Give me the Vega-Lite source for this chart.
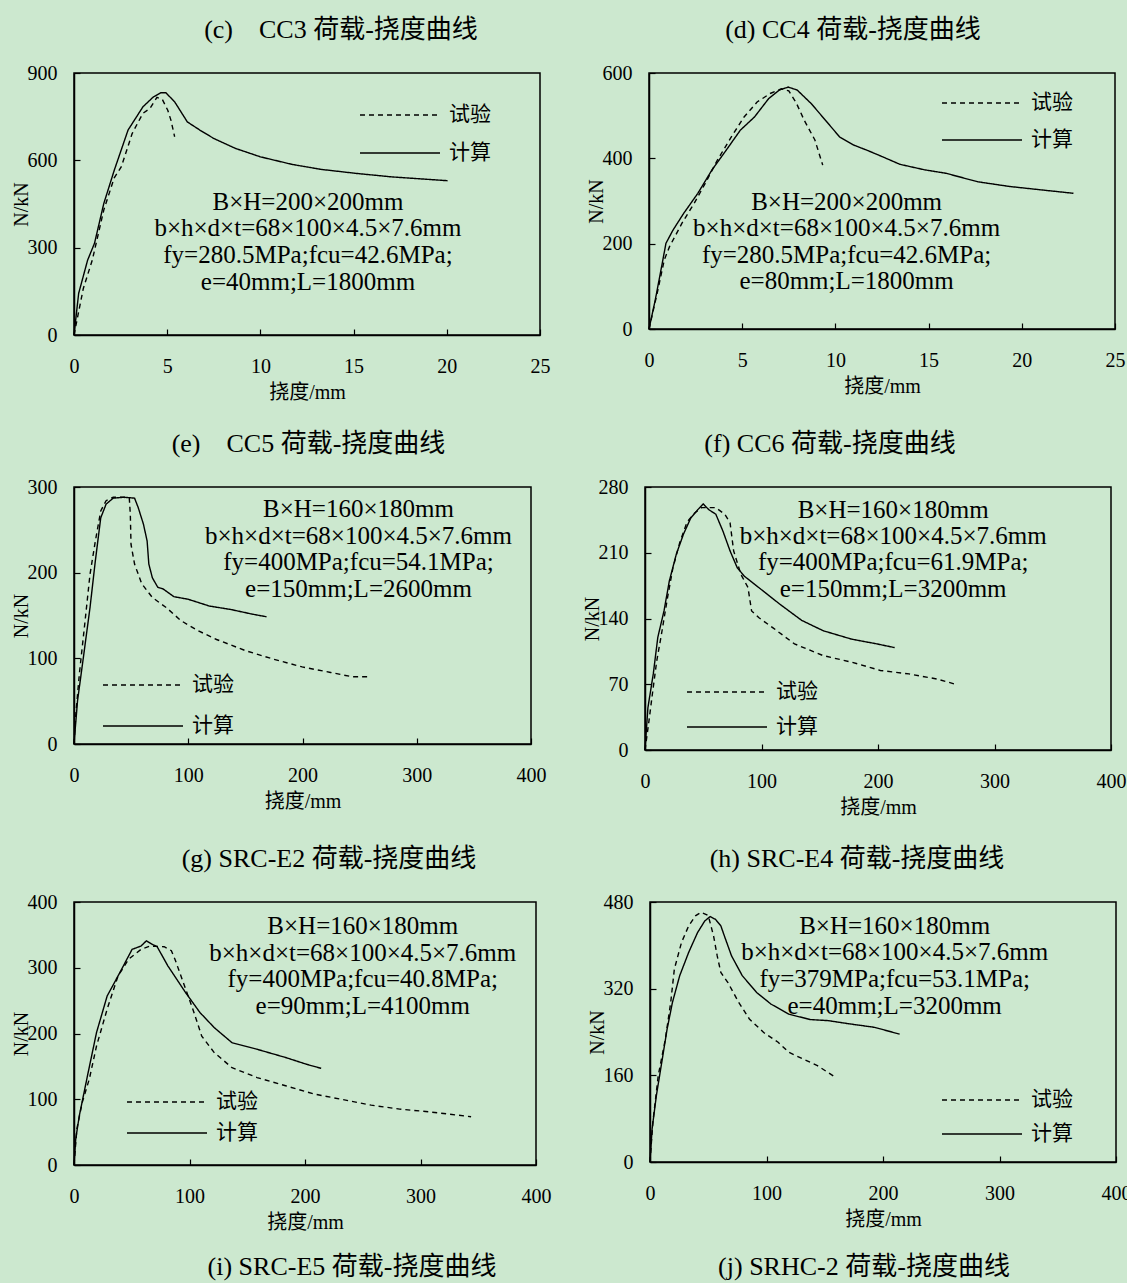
{
  "$schema": "https://vega.github.io/schema/vega-lite/v6.json",
  "background": "#cce8cf",
  "padding": {"left": 10, "top": 16, "right": 0, "bottom": 0},
  "spacing": 27,
  "resolve": {"scale": {"strokeDash": "independent"}, "legend": {"strokeDash": "independent"}},
  "datasets": {
    "c": [
      {"type": "试验", "x": 0, "y": 0}, {"type": "试验", "x": 0.5, "y": 160}, {"type": "试验", "x": 0.98, "y": 257}, {"type": "试验", "x": 1.6, "y": 430}, {"type": "试验", "x": 2.16, "y": 540}, {"type": "试验", "x": 2.54, "y": 578}, {"type": "试验", "x": 3.12, "y": 692}, {"type": "试验", "x": 3.69, "y": 761}, {"type": "试验", "x": 4.07, "y": 778}, {"type": "试验", "x": 4.45, "y": 816}, {"type": "试验", "x": 4.74, "y": 809}, {"type": "试验", "x": 5.03, "y": 772}, {"type": "试验", "x": 5.2, "y": 738}, {"type": "试验", "x": 5.4, "y": 681},
      {"type": "计算", "x": 0, "y": 0}, {"type": "计算", "x": 0.25, "y": 143}, {"type": "计算", "x": 0.73, "y": 257}, {"type": "计算", "x": 1.1, "y": 315}, {"type": "计算", "x": 1.6, "y": 452}, {"type": "计算", "x": 2.16, "y": 566}, {"type": "计算", "x": 2.9, "y": 704}, {"type": "计算", "x": 3.7, "y": 784}, {"type": "计算", "x": 4.26, "y": 818}, {"type": "计算", "x": 4.65, "y": 832}, {"type": "计算", "x": 4.93, "y": 832}, {"type": "计算", "x": 5.4, "y": 801}, {"type": "计算", "x": 6.08, "y": 732}, {"type": "计算", "x": 6.75, "y": 704}, {"type": "计算", "x": 7.5, "y": 675}, {"type": "计算", "x": 8.66, "y": 641}, {"type": "计算", "x": 10.0, "y": 612}, {"type": "计算", "x": 11.7, "y": 586}, {"type": "计算", "x": 13.25, "y": 569}, {"type": "计算", "x": 15.16, "y": 555}, {"type": "计算", "x": 17.07, "y": 543}, {"type": "计算", "x": 20.04, "y": 530}
    ],
    "d": [
      {"type": "试验", "x": 0, "y": 0}, {"type": "试验", "x": 0.44, "y": 84}, {"type": "试验", "x": 0.82, "y": 162}, {"type": "试验", "x": 1.1, "y": 193}, {"type": "试验", "x": 1.77, "y": 248}, {"type": "试验", "x": 2.43, "y": 295}, {"type": "试验", "x": 3.0, "y": 340}, {"type": "试验", "x": 3.67, "y": 396}, {"type": "试验", "x": 4.4, "y": 449}, {"type": "试验", "x": 5.1, "y": 497}, {"type": "试验", "x": 5.8, "y": 532}, {"type": "试验", "x": 6.5, "y": 552}, {"type": "试验", "x": 7.1, "y": 563}, {"type": "试验", "x": 7.5, "y": 558}, {"type": "试验", "x": 7.9, "y": 530}, {"type": "试验", "x": 8.33, "y": 489}, {"type": "试验", "x": 8.9, "y": 443}, {"type": "试验", "x": 9.32, "y": 384},
      {"type": "计算", "x": 0, "y": 0}, {"type": "计算", "x": 0.34, "y": 69}, {"type": "计算", "x": 0.68, "y": 147}, {"type": "计算", "x": 0.91, "y": 201}, {"type": "计算", "x": 1.29, "y": 232}, {"type": "计算", "x": 1.86, "y": 271}, {"type": "计算", "x": 2.62, "y": 318}, {"type": "计算", "x": 3.38, "y": 373}, {"type": "计算", "x": 4.14, "y": 419}, {"type": "计算", "x": 4.9, "y": 466}, {"type": "计算", "x": 5.66, "y": 497}, {"type": "计算", "x": 6.42, "y": 540}, {"type": "计算", "x": 6.99, "y": 560}, {"type": "计算", "x": 7.47, "y": 567}, {"type": "计算", "x": 7.95, "y": 560}, {"type": "计算", "x": 8.71, "y": 528}, {"type": "计算", "x": 9.47, "y": 489}, {"type": "计算", "x": 10.23, "y": 450}, {"type": "计算", "x": 10.99, "y": 431}, {"type": "计算", "x": 11.75, "y": 418}, {"type": "计算", "x": 12.51, "y": 404}, {"type": "计算", "x": 13.46, "y": 386}, {"type": "计算", "x": 14.79, "y": 373}, {"type": "计算", "x": 15.93, "y": 365}, {"type": "计算", "x": 17.64, "y": 345}, {"type": "计算", "x": 19.35, "y": 334}, {"type": "计算", "x": 21.06, "y": 326}, {"type": "计算", "x": 22.77, "y": 318}
    ],
    "e": [
      {"type": "试验", "x": 0, "y": 0}, {"type": "试验", "x": 1.6, "y": 35}, {"type": "试验", "x": 4.7, "y": 82}, {"type": "试验", "x": 9.4, "y": 140}, {"type": "试验", "x": 14, "y": 198}, {"type": "试验", "x": 18.7, "y": 237}, {"type": "试验", "x": 23.4, "y": 272}, {"type": "试验", "x": 28.1, "y": 284}, {"type": "试验", "x": 34.3, "y": 288}, {"type": "试验", "x": 43.7, "y": 288}, {"type": "试验", "x": 48.4, "y": 287}, {"type": "试验", "x": 49.3, "y": 268}, {"type": "试验", "x": 49.9, "y": 233}, {"type": "试验", "x": 53, "y": 210}, {"type": "试验", "x": 59.3, "y": 187}, {"type": "试验", "x": 68.6, "y": 171}, {"type": "试验", "x": 81, "y": 159}, {"type": "试验", "x": 93.6, "y": 144}, {"type": "试验", "x": 109, "y": 132}, {"type": "试验", "x": 124.8, "y": 122}, {"type": "试验", "x": 150, "y": 109}, {"type": "试验", "x": 174.7, "y": 99}, {"type": "试验", "x": 199.7, "y": 90}, {"type": "试验", "x": 224.6, "y": 83.5}, {"type": "试验", "x": 243.4, "y": 78.5}, {"type": "试验", "x": 257.4, "y": 78.5},
      {"type": "计算", "x": 0, "y": 0}, {"type": "计算", "x": 3.1, "y": 50.5}, {"type": "计算", "x": 7.8, "y": 97}, {"type": "计算", "x": 14, "y": 159}, {"type": "计算", "x": 18.7, "y": 214}, {"type": "计算", "x": 23.4, "y": 264}, {"type": "计算", "x": 28.1, "y": 280}, {"type": "计算", "x": 34.3, "y": 287}, {"type": "计算", "x": 43.7, "y": 288}, {"type": "计算", "x": 53, "y": 287}, {"type": "计算", "x": 56.2, "y": 276}, {"type": "计算", "x": 60.8, "y": 256.5}, {"type": "计算", "x": 64, "y": 237}, {"type": "计算", "x": 65.5, "y": 210}, {"type": "计算", "x": 68.6, "y": 194}, {"type": "计算", "x": 73.3, "y": 183}, {"type": "计算", "x": 78, "y": 181}, {"type": "计算", "x": 87.4, "y": 172}, {"type": "计算", "x": 99.8, "y": 169}, {"type": "计算", "x": 118.6, "y": 161}, {"type": "计算", "x": 137.3, "y": 157}, {"type": "计算", "x": 156, "y": 151.6}, {"type": "计算", "x": 168.5, "y": 148.5}
    ],
    "f": [
      {"type": "试验", "x": 0, "y": 0}, {"type": "试验", "x": 3.1, "y": 28}, {"type": "试验", "x": 7.1, "y": 67}, {"type": "试验", "x": 10.1, "y": 95}, {"type": "试验", "x": 14.1, "y": 123}, {"type": "试验", "x": 19.3, "y": 162}, {"type": "试验", "x": 23.9, "y": 193.5}, {"type": "试验", "x": 30, "y": 221.6}, {"type": "试验", "x": 36.2, "y": 243}, {"type": "试验", "x": 42.4, "y": 252}, {"type": "试验", "x": 48.5, "y": 258}, {"type": "试验", "x": 60.8, "y": 258}, {"type": "试验", "x": 68.5, "y": 251}, {"type": "试验", "x": 73, "y": 242}, {"type": "试验", "x": 76.1, "y": 212}, {"type": "试验", "x": 82.3, "y": 187}, {"type": "试验", "x": 88.4, "y": 173}, {"type": "试验", "x": 91.5, "y": 148}, {"type": "试验", "x": 97.6, "y": 141}, {"type": "试验", "x": 109.9, "y": 130}, {"type": "试验", "x": 128.3, "y": 113}, {"type": "试验", "x": 152.9, "y": 100.5}, {"type": "试验", "x": 177.4, "y": 93.5}, {"type": "试验", "x": 202, "y": 84.7}, {"type": "试验", "x": 226.6, "y": 81}, {"type": "试验", "x": 251, "y": 75.5}, {"type": "试验", "x": 266.5, "y": 70},
      {"type": "计算", "x": 0, "y": 0}, {"type": "计算", "x": 2.5, "y": 45}, {"type": "计算", "x": 7.1, "y": 81}, {"type": "计算", "x": 11, "y": 120}, {"type": "计算", "x": 16.3, "y": 148}, {"type": "计算", "x": 20.9, "y": 180}, {"type": "计算", "x": 27, "y": 209}, {"type": "计算", "x": 33.1, "y": 230}, {"type": "计算", "x": 39.3, "y": 247}, {"type": "计算", "x": 45.4, "y": 256}, {"type": "计算", "x": 50, "y": 262}, {"type": "计算", "x": 54.6, "y": 256}, {"type": "计算", "x": 60.8, "y": 251}, {"type": "计算", "x": 66.9, "y": 233}, {"type": "计算", "x": 73, "y": 212}, {"type": "计算", "x": 79.2, "y": 194}, {"type": "计算", "x": 85.3, "y": 185}, {"type": "计算", "x": 97.6, "y": 173}, {"type": "计算", "x": 116, "y": 155}, {"type": "计算", "x": 134.5, "y": 138}, {"type": "计算", "x": 152.9, "y": 127}, {"type": "计算", "x": 177.4, "y": 118}, {"type": "计算", "x": 198.9, "y": 113}, {"type": "计算", "x": 214.3, "y": 109}
    ],
    "g": [
      {"type": "试验", "x": 0, "y": 0}, {"type": "试验", "x": 2.5, "y": 55}, {"type": "试验", "x": 7.1, "y": 95}, {"type": "试验", "x": 13.3, "y": 131}, {"type": "试验", "x": 19.5, "y": 181}, {"type": "试验", "x": 28.7, "y": 237}, {"type": "试验", "x": 38, "y": 287}, {"type": "试验", "x": 47.3, "y": 313}, {"type": "试验", "x": 58, "y": 328}, {"type": "试验", "x": 65.8, "y": 333}, {"type": "试验", "x": 78.1, "y": 332}, {"type": "试验", "x": 84.3, "y": 326}, {"type": "试验", "x": 87.4, "y": 313}, {"type": "试验", "x": 93.6, "y": 282.5}, {"type": "试验", "x": 102.9, "y": 237}, {"type": "试验", "x": 110.6, "y": 196}, {"type": "试验", "x": 121.4, "y": 171}, {"type": "试验", "x": 136.8, "y": 148}, {"type": "试验", "x": 158.5, "y": 133}, {"type": "试验", "x": 183.2, "y": 120.5}, {"type": "试验", "x": 207.9, "y": 108}, {"type": "试验", "x": 231.2, "y": 100}, {"type": "试验", "x": 257.3, "y": 91}, {"type": "试验", "x": 282, "y": 85}, {"type": "试验", "x": 306.7, "y": 81}, {"type": "试验", "x": 331.4, "y": 76}, {"type": "试验", "x": 343.8, "y": 73.4},
      {"type": "计算", "x": 0, "y": 0}, {"type": "计算", "x": 1.5, "y": 39.5}, {"type": "计算", "x": 4.6, "y": 75}, {"type": "计算", "x": 11.7, "y": 136}, {"type": "计算", "x": 19.5, "y": 201.5}, {"type": "计算", "x": 28.7, "y": 257}, {"type": "计算", "x": 39.5, "y": 292}, {"type": "计算", "x": 50.3, "y": 328}, {"type": "计算", "x": 58, "y": 333}, {"type": "计算", "x": 62.7, "y": 341}, {"type": "计算", "x": 67.3, "y": 336}, {"type": "计算", "x": 72, "y": 332}, {"type": "计算", "x": 81.2, "y": 303}, {"type": "计算", "x": 96.7, "y": 262}, {"type": "计算", "x": 109, "y": 232}, {"type": "计算", "x": 121.4, "y": 209}, {"type": "计算", "x": 136.8, "y": 186}, {"type": "计算", "x": 158.5, "y": 176}, {"type": "计算", "x": 183.2, "y": 163.5}, {"type": "计算", "x": 201.7, "y": 153}, {"type": "计算", "x": 214, "y": 147}
    ],
    "h": [
      {"type": "试验", "x": 0, "y": 0}, {"type": "试验", "x": 2.5, "y": 74}, {"type": "试验", "x": 7.1, "y": 160}, {"type": "试验", "x": 13.2, "y": 227}, {"type": "试验", "x": 17.8, "y": 295}, {"type": "试验", "x": 20.9, "y": 356}, {"type": "试验", "x": 27, "y": 405}, {"type": "试验", "x": 33.2, "y": 436}, {"type": "试验", "x": 39.3, "y": 455}, {"type": "试验", "x": 43.9, "y": 461}, {"type": "试验", "x": 50, "y": 455}, {"type": "试验", "x": 54.6, "y": 417}, {"type": "试验", "x": 57.7, "y": 380.5}, {"type": "试验", "x": 60.8, "y": 350}, {"type": "试验", "x": 66.9, "y": 331}, {"type": "试验", "x": 76.1, "y": 295}, {"type": "试验", "x": 85.3, "y": 264}, {"type": "试验", "x": 97.6, "y": 239}, {"type": "试验", "x": 110, "y": 221}, {"type": "试验", "x": 119.1, "y": 202.6}, {"type": "试验", "x": 131.4, "y": 190}, {"type": "试验", "x": 143.7, "y": 178}, {"type": "试验", "x": 159, "y": 156.6},
      {"type": "计算", "x": 0, "y": 0}, {"type": "计算", "x": 1.8, "y": 61}, {"type": "计算", "x": 5.5, "y": 123}, {"type": "计算", "x": 10.1, "y": 184}, {"type": "计算", "x": 14.7, "y": 245.5}, {"type": "计算", "x": 19.3, "y": 295}, {"type": "计算", "x": 25.5, "y": 344}, {"type": "计算", "x": 33.2, "y": 387}, {"type": "计算", "x": 40.8, "y": 423.5}, {"type": "计算", "x": 47, "y": 445}, {"type": "计算", "x": 51.6, "y": 453}, {"type": "计算", "x": 56.2, "y": 448}, {"type": "计算", "x": 60.8, "y": 436}, {"type": "计算", "x": 63.9, "y": 417}, {"type": "计算", "x": 70, "y": 380.5}, {"type": "计算", "x": 79.2, "y": 344}, {"type": "计算", "x": 91.5, "y": 313}, {"type": "计算", "x": 103.8, "y": 291.6}, {"type": "计算", "x": 119.1, "y": 273}, {"type": "计算", "x": 137.5, "y": 263}, {"type": "计算", "x": 152.9, "y": 261}, {"type": "计算", "x": 171.3, "y": 255}, {"type": "计算", "x": 192.8, "y": 248.6}, {"type": "计算", "x": 214.3, "y": 236}
    ],
    "c_note": [
      {"t": "B×H=200×200mm", "x": 12.55, "y": 458}, {"t": "b×h×d×t=68×100×4.5×7.6mm", "x": 12.55, "y": 366}, {"t": "fy=280.5MPa;fcu=42.6MPa;", "x": 12.55, "y": 275}, {"t": "e=40mm;L=1800mm", "x": 12.55, "y": 183}
    ],
    "d_note": [
      {"t": "B×H=200×200mm", "x": 10.6, "y": 298}, {"t": "b×h×d×t=68×100×4.5×7.6mm", "x": 10.6, "y": 236}, {"t": "fy=280.5MPa;fcu=42.6MPa;", "x": 10.6, "y": 173}, {"t": "e=80mm;L=1800mm", "x": 10.6, "y": 113}
    ],
    "e_note": [
      {"t": "B×H=160×180mm", "x": 249, "y": 274}, {"t": "b×h×d×t=68×100×4.5×7.6mm", "x": 249, "y": 243}, {"t": "fy=400MPa;fcu=54.1MPa;", "x": 249, "y": 212}, {"t": "e=150mm;L=2600mm", "x": 249, "y": 181}
    ],
    "f_note": [
      {"t": "B×H=160×180mm", "x": 213, "y": 256}, {"t": "b×h×d×t=68×100×4.5×7.6mm", "x": 213, "y": 228}, {"t": "fy=400MPa;fcu=61.9MPa;", "x": 213, "y": 200}, {"t": "e=150mm;L=3200mm", "x": 213, "y": 171}
    ],
    "g_note": [
      {"t": "B×H=160×180mm", "x": 250, "y": 363}, {"t": "b×h×d×t=68×100×4.5×7.6mm", "x": 250, "y": 323}, {"t": "fy=400MPa;fcu=40.8MPa;", "x": 250, "y": 283}, {"t": "e=90mm;L=4100mm", "x": 250, "y": 242}
    ],
    "h_note": [
      {"t": "B×H=160×180mm", "x": 210, "y": 436}, {"t": "b×h×d×t=68×100×4.5×7.6mm", "x": 210, "y": 387}, {"t": "fy=379MPa;fcu=53.1MPa;", "x": 210, "y": 338}, {"t": "e=40mm;L=3200mm", "x": 210, "y": 288}
    ]
  },
  "vconcat": [
    {
      "hconcat": [
        {
          "width": 466, "height": 262,
          "title": {"text": "(c)\u00a0\u00a0\u00a0\u00a0CC3 荷载-挠度曲线", "dx": 34},
          "layer": [
            {"data": {"name": "c"}, "mark": {"type": "line", "color": "black", "strokeWidth": 1.4},
             "encoding": {
               "x": {"field": "x", "type": "quantitative", "scale": {"domain": [0, 25], "nice": false}, "axis": {"values": [0, 5, 10, 15, 20, 25], "title": "挠度/mm"}},
               "y": {"field": "y", "type": "quantitative", "scale": {"domain": [0, 900], "nice": false}, "axis": {"values": [0, 300, 600, 900], "title": "N/kN"}},
               "strokeDash": {"field": "type", "type": "nominal", "scale": {"domain": ["试验", "计算"], "range": [[5, 4], [1, 0]]}, "legend": {"title": null, "legendX": 285, "legendY": 34, "rowPadding": 17}}
             }},
            {"data": {"name": "c_note"}, "mark": {"type": "text", "fontSize": 25, "align": "center", "baseline": "middle", "color": "black"},
             "encoding": {"x": {"field": "x", "type": "quantitative"}, "y": {"field": "y", "type": "quantitative"}, "text": {"field": "t"}}}
          ]
        },
        {
          "width": 466, "height": 256,
          "title": {"text": "(d) CC4 荷载-挠度曲线", "dx": -29},
          "layer": [
            {"data": {"name": "d"}, "mark": {"type": "line", "color": "black", "strokeWidth": 1.4},
             "encoding": {
               "x": {"field": "x", "type": "quantitative", "scale": {"domain": [0, 25], "nice": false}, "axis": {"values": [0, 5, 10, 15, 20, 25], "title": "挠度/mm"}},
               "y": {"field": "y", "type": "quantitative", "scale": {"domain": [0, 600], "nice": false}, "axis": {"values": [0, 200, 400, 600], "title": "N/kN"}},
               "strokeDash": {"field": "type", "type": "nominal", "scale": {"domain": ["试验", "计算"], "range": [[5, 4], [1, 0]]}, "legend": {"title": null, "legendX": 292, "legendY": 22, "rowPadding": 16}}
             }},
            {"data": {"name": "d_note"}, "mark": {"type": "text", "fontSize": 25, "align": "center", "baseline": "middle", "color": "black"},
             "encoding": {"x": {"field": "x", "type": "quantitative"}, "y": {"field": "y", "type": "quantitative"}, "text": {"field": "t"}}}
          ]
        }
      ],
      "spacing": 34,
      "resolve": {"scale": {"strokeDash": "independent"}, "legend": {"strokeDash": "independent"}}
    },
    {
      "hconcat": [
        {
          "width": 457, "height": 257,
          "title": {"text": "(e)\u00a0\u00a0\u00a0\u00a0CC5 荷载-挠度曲线", "dx": 6},
          "layer": [
            {"data": {"name": "e"}, "mark": {"type": "line", "color": "black", "strokeWidth": 1.4},
             "encoding": {
               "x": {"field": "x", "type": "quantitative", "scale": {"domain": [0, 400], "nice": false}, "axis": {"values": [0, 100, 200, 300, 400], "title": "挠度/mm"}},
               "y": {"field": "y", "type": "quantitative", "scale": {"domain": [0, 300], "nice": false}, "axis": {"values": [0, 100, 200, 300], "title": "N/kN"}},
               "strokeDash": {"field": "type", "type": "nominal", "scale": {"domain": ["试验", "计算"], "range": [[5, 4], [1, 0]]}, "legend": {"title": null, "legendX": 28, "legendY": 190, "rowPadding": 20}}
             }},
            {"data": {"name": "e_note"}, "mark": {"type": "text", "fontSize": 25, "align": "center", "baseline": "middle", "color": "black"},
             "encoding": {"x": {"field": "x", "type": "quantitative"}, "y": {"field": "y", "type": "quantitative"}, "text": {"field": "t"}}}
          ]
        },
        {
          "width": 466, "height": 263,
          "title": {"text": "(f) CC6 荷载-挠度曲线", "dx": -48},
          "layer": [
            {"data": {"name": "f"}, "mark": {"type": "line", "color": "black", "strokeWidth": 1.4},
             "encoding": {
               "x": {"field": "x", "type": "quantitative", "scale": {"domain": [0, 400], "nice": false}, "axis": {"values": [0, 100, 200, 300, 400], "title": "挠度/mm"}},
               "y": {"field": "y", "type": "quantitative", "scale": {"domain": [0, 280], "nice": false}, "axis": {"values": [0, 70, 140, 210, 280], "title": "N/kN"}},
               "strokeDash": {"field": "type", "type": "nominal", "scale": {"domain": ["试验", "计算"], "range": [[5, 4], [1, 0]]}, "legend": {"title": null, "legendX": 41, "legendY": 197, "rowPadding": 14}}
             }},
            {"data": {"name": "f_note"}, "mark": {"type": "text", "fontSize": 25, "align": "center", "baseline": "middle", "color": "black"},
             "encoding": {"x": {"field": "x", "type": "quantitative"}, "y": {"field": "y", "type": "quantitative"}, "text": {"field": "t"}}}
          ]
        }
      ],
      "spacing": 34,
      "resolve": {"scale": {"strokeDash": "independent"}, "legend": {"strokeDash": "independent"}}
    },
    {
      "vconcat": [
        {
          "hconcat": [
            {
              "width": 462, "height": 263,
              "title": {"text": "(g) SRC-E2 荷载-挠度曲线", "dx": 24},
              "layer": [
                {"data": {"name": "g"}, "mark": {"type": "line", "color": "black", "strokeWidth": 1.4},
                 "encoding": {
                   "x": {"field": "x", "type": "quantitative", "scale": {"domain": [0, 400], "nice": false}, "axis": {"values": [0, 100, 200, 300, 400], "title": "挠度/mm"}},
                   "y": {"field": "y", "type": "quantitative", "scale": {"domain": [0, 400], "nice": false}, "axis": {"values": [0, 100, 200, 300, 400], "title": "N/kN"}},
                   "strokeDash": {"field": "type", "type": "nominal", "scale": {"domain": ["试验", "计算"], "range": [[5, 4], [1, 0]]}, "legend": {"title": null, "legendX": 52, "legendY": 192, "rowPadding": 10}}
                 }},
                {"data": {"name": "g_note"}, "mark": {"type": "text", "fontSize": 25, "align": "center", "baseline": "middle", "color": "black"},
                 "encoding": {"x": {"field": "x", "type": "quantitative"}, "y": {"field": "y", "type": "quantitative"}, "text": {"field": "t"}}}
              ]
            },
            {
              "width": 466, "height": 260,
              "title": {"text": "(h) SRC-E4 荷载-挠度曲线", "dx": -26},
              "layer": [
                {"data": {"name": "h"}, "mark": {"type": "line", "color": "black", "strokeWidth": 1.4},
                 "encoding": {
                   "x": {"field": "x", "type": "quantitative", "scale": {"domain": [0, 400], "nice": false}, "axis": {"values": [0, 100, 200, 300, 400], "title": "挠度/mm"}},
                   "y": {"field": "y", "type": "quantitative", "scale": {"domain": [0, 480], "nice": false}, "axis": {"values": [0, 160, 320, 480], "title": "N/kN"}},
                   "strokeDash": {"field": "type", "type": "nominal", "scale": {"domain": ["试验", "计算"], "range": [[5, 4], [1, 0]]}, "legend": {"title": null, "legendX": 291, "legendY": 190, "rowPadding": 13}}
                 }},
                {"data": {"name": "h_note"}, "mark": {"type": "text", "fontSize": 25, "align": "center", "baseline": "middle", "color": "black"},
                 "encoding": {"x": {"field": "x", "type": "quantitative"}, "y": {"field": "y", "type": "quantitative"}, "text": {"field": "t"}}}
              ]
            }
          ],
          "spacing": 34,
          "resolve": {"scale": {"strokeDash": "independent"}, "legend": {"strokeDash": "independent"}}
        },
        {
          "hconcat": [
            {
              "width": 480, "height": 1,
              "view": {"stroke": null},
              "title": {"text": "(i) SRC-E5 荷载-挠度曲线", "dx": 38},
              "data": {"values": []},
              "mark": "text"
            },
            {
              "width": 466, "height": 1,
              "view": {"stroke": null},
              "title": {"text": "(j) SRHC-2 荷载-挠度曲线", "dx": 43},
              "data": {"values": []},
              "mark": "text"
            }
          ],
          "spacing": 34
        }
      ],
      "spacing": 21,
      "resolve": {"scale": {"strokeDash": "independent"}, "legend": {"strokeDash": "independent"}}
    }
  ],
  "config": {
    "font": "Liberation Serif, Noto Sans CJK SC",
    "view": {"stroke": "black", "strokeWidth": 1.5},
    "axis": {
      "grid": false, "domainColor": "black", "domainWidth": 1.5, "tickColor": "black", "tickSize": -6, "tickWidth": 1.2,
      "labelFont": "Liberation Serif", "labelFontSize": 20, "labelColor": "black", "labelFlush": false,
      "titleFont": "Liberation Serif, Noto Sans CJK SC", "titleFontSize": 20, "titleFontWeight": "normal", "titleColor": "black"
    },
    "axisX": {"labelPadding": 27, "titlePadding": 6},
    "axisY": {"labelPadding": 23, "titlePadding": -4},
    "legend": {
      "orient": "none", "symbolType": "stroke", "symbolSize": 6400, "symbolStrokeColor": "black", "symbolStrokeWidth": 1.5,
      "labelFont": "Liberation Serif, Noto Sans CJK SC", "labelFontSize": 21, "labelColor": "black", "labelOffset": 8,
      "clipHeight": 16, "padding": 0
    },
    "title": {"font": "Liberation Serif, Noto Sans CJK SC", "fontSize": 26, "fontWeight": "normal", "color": "black", "anchor": "middle", "frame": "group", "offset": 20},
    "text": {"font": "Liberation Serif"}
  }
}
